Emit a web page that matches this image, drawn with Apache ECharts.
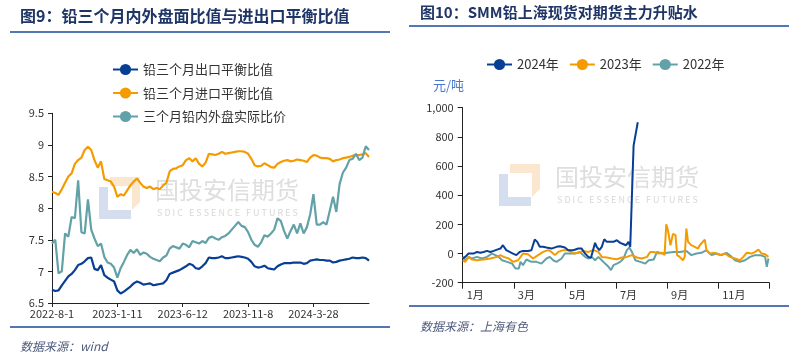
<!DOCTYPE html>
<html>
<head>
<meta charset="utf-8">
<script src="https://cdn.jsdelivr.net/npm/echarts@6/dist/echarts.min.js"></script>
<style>
html,body{margin:0;padding:0;background:#fff;}
#c{width:795px;height:355px;}
</style>
</head>
<body>
<div id="c"></div>
<script>
// ---------- Left chart data (图9) ----------
const leftTickDates = ['2022-8-1', '2023-1-11', '2023-6-12', '2023-11-8', '2024-3-28'];
const leftStep = 20; // points between labelled dates
const exportRatio = [6.71,6.69,6.70,6.78,6.85,6.92,6.96,7.02,7.10,7.12,7.16,7.21,7.22,7.04,7.02,7.10,6.94,6.90,6.87,6.84,
  6.70,6.65,6.68,6.72,6.76,6.81,6.84,6.82,6.79,6.80,6.81,6.78,6.79,6.80,6.81,6.86,6.96,6.98,7.00,7.02,
  7.05,7.08,7.12,7.10,7.05,7.04,7.08,7.13,7.22,7.21,7.21,7.22,7.24,7.21,7.21,7.22,7.23,7.24,7.23,7.22,
  7.20,7.15,7.08,7.06,7.07,7.09,7.05,7.04,7.03,7.08,7.11,7.13,7.13,7.13,7.14,7.14,7.14,7.12,7.13,7.17,
  7.18,7.19,7.18,7.18,7.17,7.17,7.14,7.15,7.17,7.18,7.19,7.20,7.22,7.21,7.21,7.22,7.21,7.17];
const importRatio = [8.26,8.24,8.21,8.30,8.40,8.50,8.55,8.70,8.76,8.80,8.92,8.97,8.92,8.76,8.64,8.74,8.46,8.44,8.42,8.34,
  8.18,8.22,8.20,8.28,8.36,8.42,8.47,8.40,8.34,8.32,8.34,8.30,8.32,8.30,8.36,8.40,8.58,8.62,8.63,8.66,
  8.68,8.76,8.79,8.74,8.79,8.70,8.66,8.72,8.86,8.85,8.84,8.86,8.89,8.86,8.87,8.88,8.89,8.90,8.90,8.89,
  8.86,8.78,8.68,8.66,8.67,8.71,8.68,8.65,8.64,8.70,8.73,8.75,8.76,8.74,8.75,8.77,8.76,8.75,8.73,8.80,
  8.84,8.83,8.80,8.79,8.79,8.78,8.74,8.76,8.77,8.79,8.80,8.81,8.83,8.84,8.84,8.85,8.87,8.81];
const actualRatio = [7.44,7.50,6.97,7.00,7.60,7.55,7.86,7.84,8.44,7.62,7.60,8.14,7.66,7.52,7.40,7.44,7.23,7.14,7.12,7.06,
  6.90,7.05,7.15,7.26,7.34,7.29,7.35,7.26,7.30,7.28,7.23,7.20,7.18,7.16,7.22,7.25,7.36,7.40,7.38,7.36,
  7.44,7.42,7.38,7.48,7.46,7.44,7.48,7.45,7.53,7.55,7.52,7.50,7.54,7.56,7.60,7.66,7.72,7.78,7.72,7.70,
  7.62,7.50,7.42,7.39,7.46,7.57,7.55,7.60,7.66,7.84,7.80,7.64,7.52,7.64,7.74,7.60,7.76,7.60,7.70,7.90,
  8.22,7.74,7.74,7.78,7.74,7.96,8.18,7.94,8.38,8.56,8.64,8.76,8.78,8.86,8.76,8.80,8.98,8.92];
const leftNames = ['铅三个月出口平衡比值', '铅三个月进口平衡比值', '三个月铅内外盘实际比价'];

// ---------- Right chart data (图10) ----------
const monthTicks = ['1月', '3月', '5月', '7月', '9月', '11月', ''];
const days2024 = [0,3,7,13,17,21,25,29,33,37,41,45,48,52,56,60,64,68,72,78,82,86,89,92,96,100,106,112,116,122,126,132,138,142,146,150,153,155,158,160,163,166,169,172,176,180,184,188,192,195,198,200,204,209];
const val2024 = [-34,-23,0,0,11,5,11,18,11,18,27,34,57,23,11,0,-11,11,18,18,23,96,80,46,46,41,34,46,50,41,23,23,34,34,0,-23,-30,11,73,46,23,46,98,80,80,80,91,73,64,57,80,46,740,900];
const days2023 = [0,3,7,11,17,25,33,41,45,49,55,60,66,72,78,84,90,96,102,106,110,114,120,126,132,138,144,150,156,162,166,172,178,184,190,196,202,208,214,220,224,228,234,238,241,243,245,248,251,254,256,259,263,265,267,269,273,277,281,283,285,289,291,295,301,307,313,319,325,331,335,339,345,349,353,357,361,365];
const val2023 = [-46,-57,-23,-41,-46,-41,-34,-23,-11,-23,-34,-57,-46,0,-5,-34,-11,11,23,11,-11,11,23,23,0,5,18,11,23,11,-23,-27,-34,-39,-27,-23,-11,-27,-34,-23,11,11,0,5,-11,200,160,57,135,126,-11,-23,-46,-23,171,80,57,46,34,57,46,95,23,0,5,-11,0,-23,-34,-46,-23,5,0,11,27,0,-5,-23];
const days2022 = [0,3,7,11,17,23,29,35,39,43,47,53,59,63,67,69,72,76,82,88,94,100,104,108,112,118,122,128,134,140,146,150,154,158,162,166,170,174,177,180,184,188,192,196,199,202,206,212,218,222,228,232,238,244,252,259,267,273,279,285,291,297,303,309,315,321,325,331,337,343,349,355,361,363,365];
const val2022 = [-23,-46,-23,-34,-23,-34,-23,0,-11,-23,-46,-57,-69,-103,-103,-57,-80,-41,-57,-57,-69,-34,-23,-46,-57,-34,0,0,0,11,-23,-34,-23,-46,-23,-46,-69,-91,-114,-80,-69,-57,-34,23,41,11,-46,-57,-69,-46,-41,11,0,5,11,11,18,-11,0,5,23,-11,0,-11,5,-23,-46,-57,-46,-23,-11,-11,-23,-91,-34];
const rightNames = ['2024年', '2023年', '2022年'];

// ---------- helpers ----------
const BLUE = '#083f94', ORANGE = '#f59b00', TEAL = '#63a1a8';
const FONT = '"Noto Sans CJK SC", "Noto Sans", sans-serif';

function buildCategories(n) {
  const parse = s => { const p = s.split('-').map(Number); return Date.UTC(p[0], p[1] - 1, p[2]); };
  const t = leftTickDates.map(parse);
  const out = [];
  for (let i = 0; i < n; i++) {
    if (i % leftStep === 0 && i / leftStep < leftTickDates.length) { out.push(leftTickDates[i / leftStep]); continue; }
    const seg = Math.min(Math.floor(i / leftStep), t.length - 2);
    const f = (i - seg * leftStep) / leftStep;
    const d = new Date(t[seg] + (t[seg + 1] - t[seg]) * f);
    out.push(d.getUTCFullYear() + '-' + (d.getUTCMonth() + 1) + '-' + d.getUTCDate());
  }
  return out;
}
const leftCats = buildCategories(exportRatio.length);
const pairs = (xs, ys) => xs.map((x, i) => [x, ys[i]]);

function watermark(dx, dy) {
  return {
    type: 'group', x: dx, y: dy, silent: true, z: -10,
    children: [
      { type: 'polygon', shape: { points: [[110,177],[140,177],[140,202],[132,210],[132,186],[110,186]] }, style: { fill: '#fbe7cf' } },
      { type: 'polygon', shape: { points: [[99,187],[108,187],[108,210],[131,210],[131,219],[99,219]] }, style: { fill: '#d5deee' } },
      { type: 'text', style: { x: 155, y: 190, text: '国投安信期货', font: '24px ' + FONT, fill: '#dedede', verticalAlign: 'middle' } },
      { type: 'text', style: { x: 157, y: 213, text: 'S D I C   E S S E N C E   F U T U R E S', font: '9px ' + FONT, fill: '#d8d8d8', verticalAlign: 'middle' } }
    ]
  };
}

const chart = echarts.init(document.getElementById('c'), null, { renderer: 'canvas' });
const axisLineStyle = { color: '#222', width: 1 };
const tickLabel = { color: '#333', fontSize: 11, fontFamily: FONT };

chart.setOption({
  backgroundColor: '#fff',
  animation: false,
  textStyle: { fontFamily: FONT },
  graphic: [
    watermark(0, 0),
    watermark(400, -13),
    { type: 'text', style: { x: 20, y: 16, text: '图9：铅三个月内外盘面比值与进出口平衡比值', font: 'bold 16px ' + FONT, fill: '#1e3566', verticalAlign: 'middle' } },
    { type: 'line', shape: { x1: 10, y1: 32, x2: 390, y2: 32 }, style: { stroke: '#1a4a9c', lineWidth: 1.5 } },
    { type: 'line', shape: { x1: 10, y1: 327, x2: 390, y2: 327 }, style: { stroke: '#1a4a9c', lineWidth: 1.5 } },
    { type: 'text', style: { x: 20, y: 346, text: '数据来源：wind', font: 'italic 12px ' + FONT, fill: '#4d5a7c', verticalAlign: 'middle' } },
    { type: 'text', style: { x: 420, y: 12, text: '图10：SMM铅上海现货对期货主力升贴水', font: 'bold 15px ' + FONT, fill: '#1e3566', verticalAlign: 'middle' } },
    { type: 'line', shape: { x1: 409, y1: 26, x2: 789, y2: 26 }, style: { stroke: '#1a4a9c', lineWidth: 1.5 } },
    { type: 'line', shape: { x1: 409, y1: 306, x2: 789, y2: 306 }, style: { stroke: '#1a4a9c', lineWidth: 1.5 } },
    { type: 'text', style: { x: 420, y: 326, text: '数据来源：上海有色', font: 'italic 12px ' + FONT, fill: '#4d5a7c', verticalAlign: 'middle' } },
    { type: 'text', style: { x: 433, y: 85, text: '元/吨', font: '13px ' + FONT, fill: '#4a78c8', verticalAlign: 'middle' } }
  ],
  legend: [
    { orient: 'vertical', left: 107, top: 58, itemGap: 10.5, itemWidth: 25, itemHeight: 14,
      data: leftNames, textStyle: { color: '#333', fontSize: 13, fontFamily: FONT } },
    { orient: 'horizontal', left: 481, top: 53, itemGap: 10, itemWidth: 25, itemHeight: 14,
      data: rightNames, textStyle: { color: '#333', fontSize: 13, fontFamily: FONT } }
  ],
  grid: [
    { left: 52, right: 426, top: 113.3, bottom: 52 },
    { left: 462.7, right: 25.7, top: 107.7, bottom: 72.3 }
  ],
  xAxis: [
    { gridIndex: 0, type: 'category', data: leftCats, boundaryGap: false,
      axisLine: { lineStyle: axisLineStyle }, axisTick: { interval: leftStep - 1, length: 4, lineStyle: axisLineStyle },
      axisLabel: Object.assign({ interval: leftStep - 1, margin: 5 }, tickLabel), splitLine: { show: false } },
    { gridIndex: 1, type: 'value', min: 0, max: 366, interval: 61,
      axisLine: { onZero: false, lineStyle: axisLineStyle }, axisTick: { length: 6, lineStyle: axisLineStyle },
      axisLabel: Object.assign({ margin: 7, align: 'left', padding: [0, 0, 0, 4],
        formatter: v => monthTicks[Math.round(v / 61)] || '' }, tickLabel),
      splitLine: { show: false } }
  ],
  yAxis: [
    { gridIndex: 0, type: 'value', min: 6.5, max: 9.5, interval: 0.5,
      axisLine: { show: true, lineStyle: axisLineStyle }, axisTick: { show: true, length: 4, lineStyle: axisLineStyle },
      axisLabel: Object.assign({ margin: 8 }, tickLabel), splitLine: { show: false } },
    { gridIndex: 1, type: 'value', min: -200, max: 1000, interval: 200,
      axisLine: { show: true, lineStyle: axisLineStyle }, axisTick: { show: true, length: 5, lineStyle: axisLineStyle },
      axisLabel: Object.assign({ margin: 9 }, tickLabel), splitLine: { show: false } }
  ],
  series: [
    { name: leftNames[0], type: 'line', xAxisIndex: 0, yAxisIndex: 0, data: exportRatio, symbol: 'circle', symbolSize: 10, showSymbol: false,
      lineStyle: { width: 2.2, color: BLUE }, itemStyle: { color: BLUE } },
    { name: leftNames[1], type: 'line', xAxisIndex: 0, yAxisIndex: 0, data: importRatio, symbol: 'circle', symbolSize: 10, showSymbol: false,
      lineStyle: { width: 2.2, color: ORANGE }, itemStyle: { color: ORANGE } },
    { name: leftNames[2], type: 'line', xAxisIndex: 0, yAxisIndex: 0, data: actualRatio, symbol: 'circle', symbolSize: 10, showSymbol: false,
      lineStyle: { width: 2.2, color: TEAL }, itemStyle: { color: TEAL } },
    { name: rightNames[2], type: 'line', xAxisIndex: 1, yAxisIndex: 1, data: pairs(days2022, val2022), symbol: 'circle', symbolSize: 10, showSymbol: false,
      lineStyle: { width: 2, color: TEAL }, itemStyle: { color: TEAL } },
    { name: rightNames[1], type: 'line', xAxisIndex: 1, yAxisIndex: 1, data: pairs(days2023, val2023), symbol: 'circle', symbolSize: 10, showSymbol: false,
      lineStyle: { width: 2, color: ORANGE }, itemStyle: { color: ORANGE } },
    { name: rightNames[0], type: 'line', xAxisIndex: 1, yAxisIndex: 1, data: pairs(days2024, val2024), symbol: 'circle', symbolSize: 10, showSymbol: false,
      lineStyle: { width: 2, color: BLUE }, itemStyle: { color: BLUE } }
  ]
});
</script>
</body>
</html>
